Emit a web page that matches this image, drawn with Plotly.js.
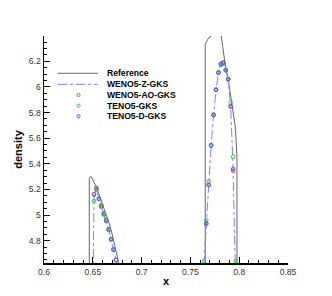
<!DOCTYPE html>
<html><head><meta charset="utf-8">
<script src="https://cdn.plot.ly/plotly-3.0.1.min.js"></script>
<style>html,body{margin:0;padding:0;background:#fff}#chart{width:332px;height:296px}</style>
</head><body><div id="chart"></div>
<script>
// ---- data ----
const seriesNames = ['Reference', 'WENO5-Z-GKS', 'WENO5-AO-GKS', 'TENO5-GKS', 'TENO5-D-GKS'];

const refX = [0.6464, 0.6464, 0.6472, 0.6482, 0.6495, 0.651, 0.653, 0.6555, 0.658, 0.661, 0.664, 0.667, 0.670, 0.6725, 0.675, 0.6765, 0.678,
  null,
  0.7652, 0.7652, 0.7669, 0.7691, 0.7718, 0.775, 0.778, 0.7805, 0.7812, 0.7831, 0.7855, 0.7888, 0.7913, 0.7940, 0.7957, 0.7967, 0.7974, 0.7977, 0.7977];
const refY = [4.0, 5.285, 5.298, 5.297, 5.285, 5.262, 5.228, 5.18, 5.125, 5.065, 5.0, 4.93, 4.845, 4.77, 4.68, 4.62, 4.5,
  null,
  4.0, 6.335, 6.358, 6.387, 6.40, 6.425, 6.43, 6.42, 6.418, 6.314, 6.184, 6.054, 5.925, 5.821, 5.704, 5.603, 5.523, 5.45, 4.0];

const gridX = [0.64875, 0.65125, 0.65375, 0.65625, 0.65875, 0.66125, 0.66375, 0.66625, 0.66875, 0.67125, 0.67375, 0.67625,
  0.76125, 0.76375, 0.76625, 0.76875, 0.77125, 0.77375, 0.77625, 0.77875, 0.78125, 0.78375, 0.78625, 0.78875, 0.79125, 0.79375, 0.79625, 0.79875];
const wenoZ  = [3.4, 5.16, 5.20, 5.125, 5.065, 5.005, 4.955, 4.885, 4.81, 4.73, 4.65, 4.55,
  3.3, 4.60, 4.935, 5.235, 5.545, 5.78, 5.977, 6.11, 6.178, 6.185, 6.13, 6.06, 5.85, 5.36, 4.5, 3.0];
const wenoAO = [3.3, 5.165, 5.215, 5.13, 5.07, 5.01, 4.96, 4.885, 4.81, 4.73, 4.65, 4.55,
  3.3, 4.60, 4.93, 5.235, 5.545, 5.78, 5.977, 6.11, 6.18, 6.19, 6.13, 6.06, 5.845, 5.345, 4.5, 3.0];
const teno   = [3.5, 5.11, 5.205, 5.13, 5.08, 5.015, 4.97, 4.89, 4.815, 4.735, 4.65, 4.55,
  3.4, 4.64, 4.96, 5.263, 5.54, 5.785, 5.98, 6.115, 6.17, 6.18, 6.13, 6.06, 5.88, 5.455, 4.64, 3.2];
const tenoD  = [3.4, 5.16, 5.20, 5.125, 5.065, 5.005, 4.955, 4.885, 4.81, 4.73, 4.65, 4.55,
  3.3, 4.60, 4.935, 5.235, 5.545, 5.78, 5.977, 6.11, 6.18, 6.188, 6.13, 6.06, 5.85, 5.36, 4.5, 3.0];

const xTicks = [0.6, 0.65, 0.7, 0.75, 0.8, 0.85];
const yTicks = [4.8, 5, 5.2, 5.4, 5.6, 5.8, 6, 6.2];

// ---- styles ----
const FONT = 'Liberation Sans, Arial, sans-serif';
const colors = ['#666666', '#7f7fff', '#e05555', '#33cc33', '#5555ff'];

const traces = [
  {x: refX, y: refY, mode: 'lines', name: seriesNames[0], line: {color: colors[0], width: 1}, connectgaps: false},
  {x: gridX, y: wenoZ, mode: 'lines', name: seriesNames[1], line: {color: colors[1], width: 1, dash: 'dashdot'}},
  {x: gridX, y: wenoAO, mode: 'markers', name: seriesNames[2], marker: {symbol: 'circle-open', size: 3.6, color: colors[2], line: {width: 1}}},
  {x: gridX, y: teno, mode: 'markers', name: seriesNames[3], marker: {symbol: 'circle-open', size: 3.6, color: colors[3], line: {width: 1}}},
  {x: gridX, y: tenoD, mode: 'markers', name: seriesNames[4], marker: {symbol: 'circle-open', size: 3.6, color: colors[4], line: {width: 1}}}
];

// manual legend (pixel layout converted to paper coords)
const L = 44, T = 36, W = 244, H = 227;
const px = v => (v - L) / W;
const py = v => (T + H - v) / H;
const rows = [73.3, 84.3, 95, 105.7, 116.3];
const shapes = [], annotations = [];
seriesNames.forEach((n, i) => {
  const yy = py(rows[i]);
  if (i < 2) {
    shapes.push({type: 'line', xref: 'paper', yref: 'paper', x0: px(58), x1: px(98), y0: yy, y1: yy,
      line: {color: colors[i], width: 1, dash: i === 1 ? 'dashdot' : 'solid'}});
  } else {
    shapes.push({type: 'circle', xref: 'paper', yref: 'paper', xsizemode: 'pixel', ysizemode: 'pixel',
      xanchor: px(78.5), yanchor: yy, x0: -1.6, x1: 1.6, y0: -1.6, y1: 1.6,
      line: {color: colors[i], width: 1}});
  }
  annotations.push({text: n, xref: 'paper', yref: 'paper', x: px(104.5), y: yy, xanchor: 'left', yanchor: 'middle',
    showarrow: false, font: {family: FONT, size: 8.6, color: '#000', weight: 700}});
});

const layout = {
  width: 332, height: 296,
  margin: {l: 44, r: 44, t: 36, b: 33},
  paper_bgcolor: '#fff', plot_bgcolor: '#fff',
  showlegend: false,
  font: {family: FONT, size: 8.6, color: '#333'},
  xaxis: {
    range: [0.6, 0.85], tickvals: xTicks, ticktext: xTicks.map(String),
    showline: true, linecolor: '#000', linewidth: 1.5, showgrid: false, zeroline: false,
    ticks: 'inside', ticklen: 6, tickwidth: 1, tickcolor: '#000',
    minor: {dtick: 0.01, tick0: 0.6, ticks: 'inside', ticklen: 3, tickwidth: 1, tickcolor: '#000', showgrid: false},
    tickfont: {family: FONT, size: 8.6, color: '#333'},
    title: {text: 'x', font: {family: FONT, size: 11, color: '#000', weight: 700}, standoff: 1}
  },
  yaxis: {
    range: [4.626, 6.397], tickvals: yTicks, ticktext: yTicks.map(String),
    showline: true, linecolor: '#000', linewidth: 1.5, showgrid: false, zeroline: false,
    ticks: 'inside', ticklen: 6, tickwidth: 1, tickcolor: '#000',
    minor: {dtick: 0.05, tick0: 4.8, ticks: 'inside', ticklen: 3, tickwidth: 1, tickcolor: '#000', showgrid: false},
    tickfont: {family: FONT, size: 8.6, color: '#333'},
    title: {text: 'density', font: {family: FONT, size: 11, color: '#000', weight: 700}, standoff: 4}
  },
  shapes: shapes,
  annotations: annotations
};

Plotly.newPlot('chart', traces, layout, {displayModeBar: false, staticPlot: true});
</script>
</body></html>
